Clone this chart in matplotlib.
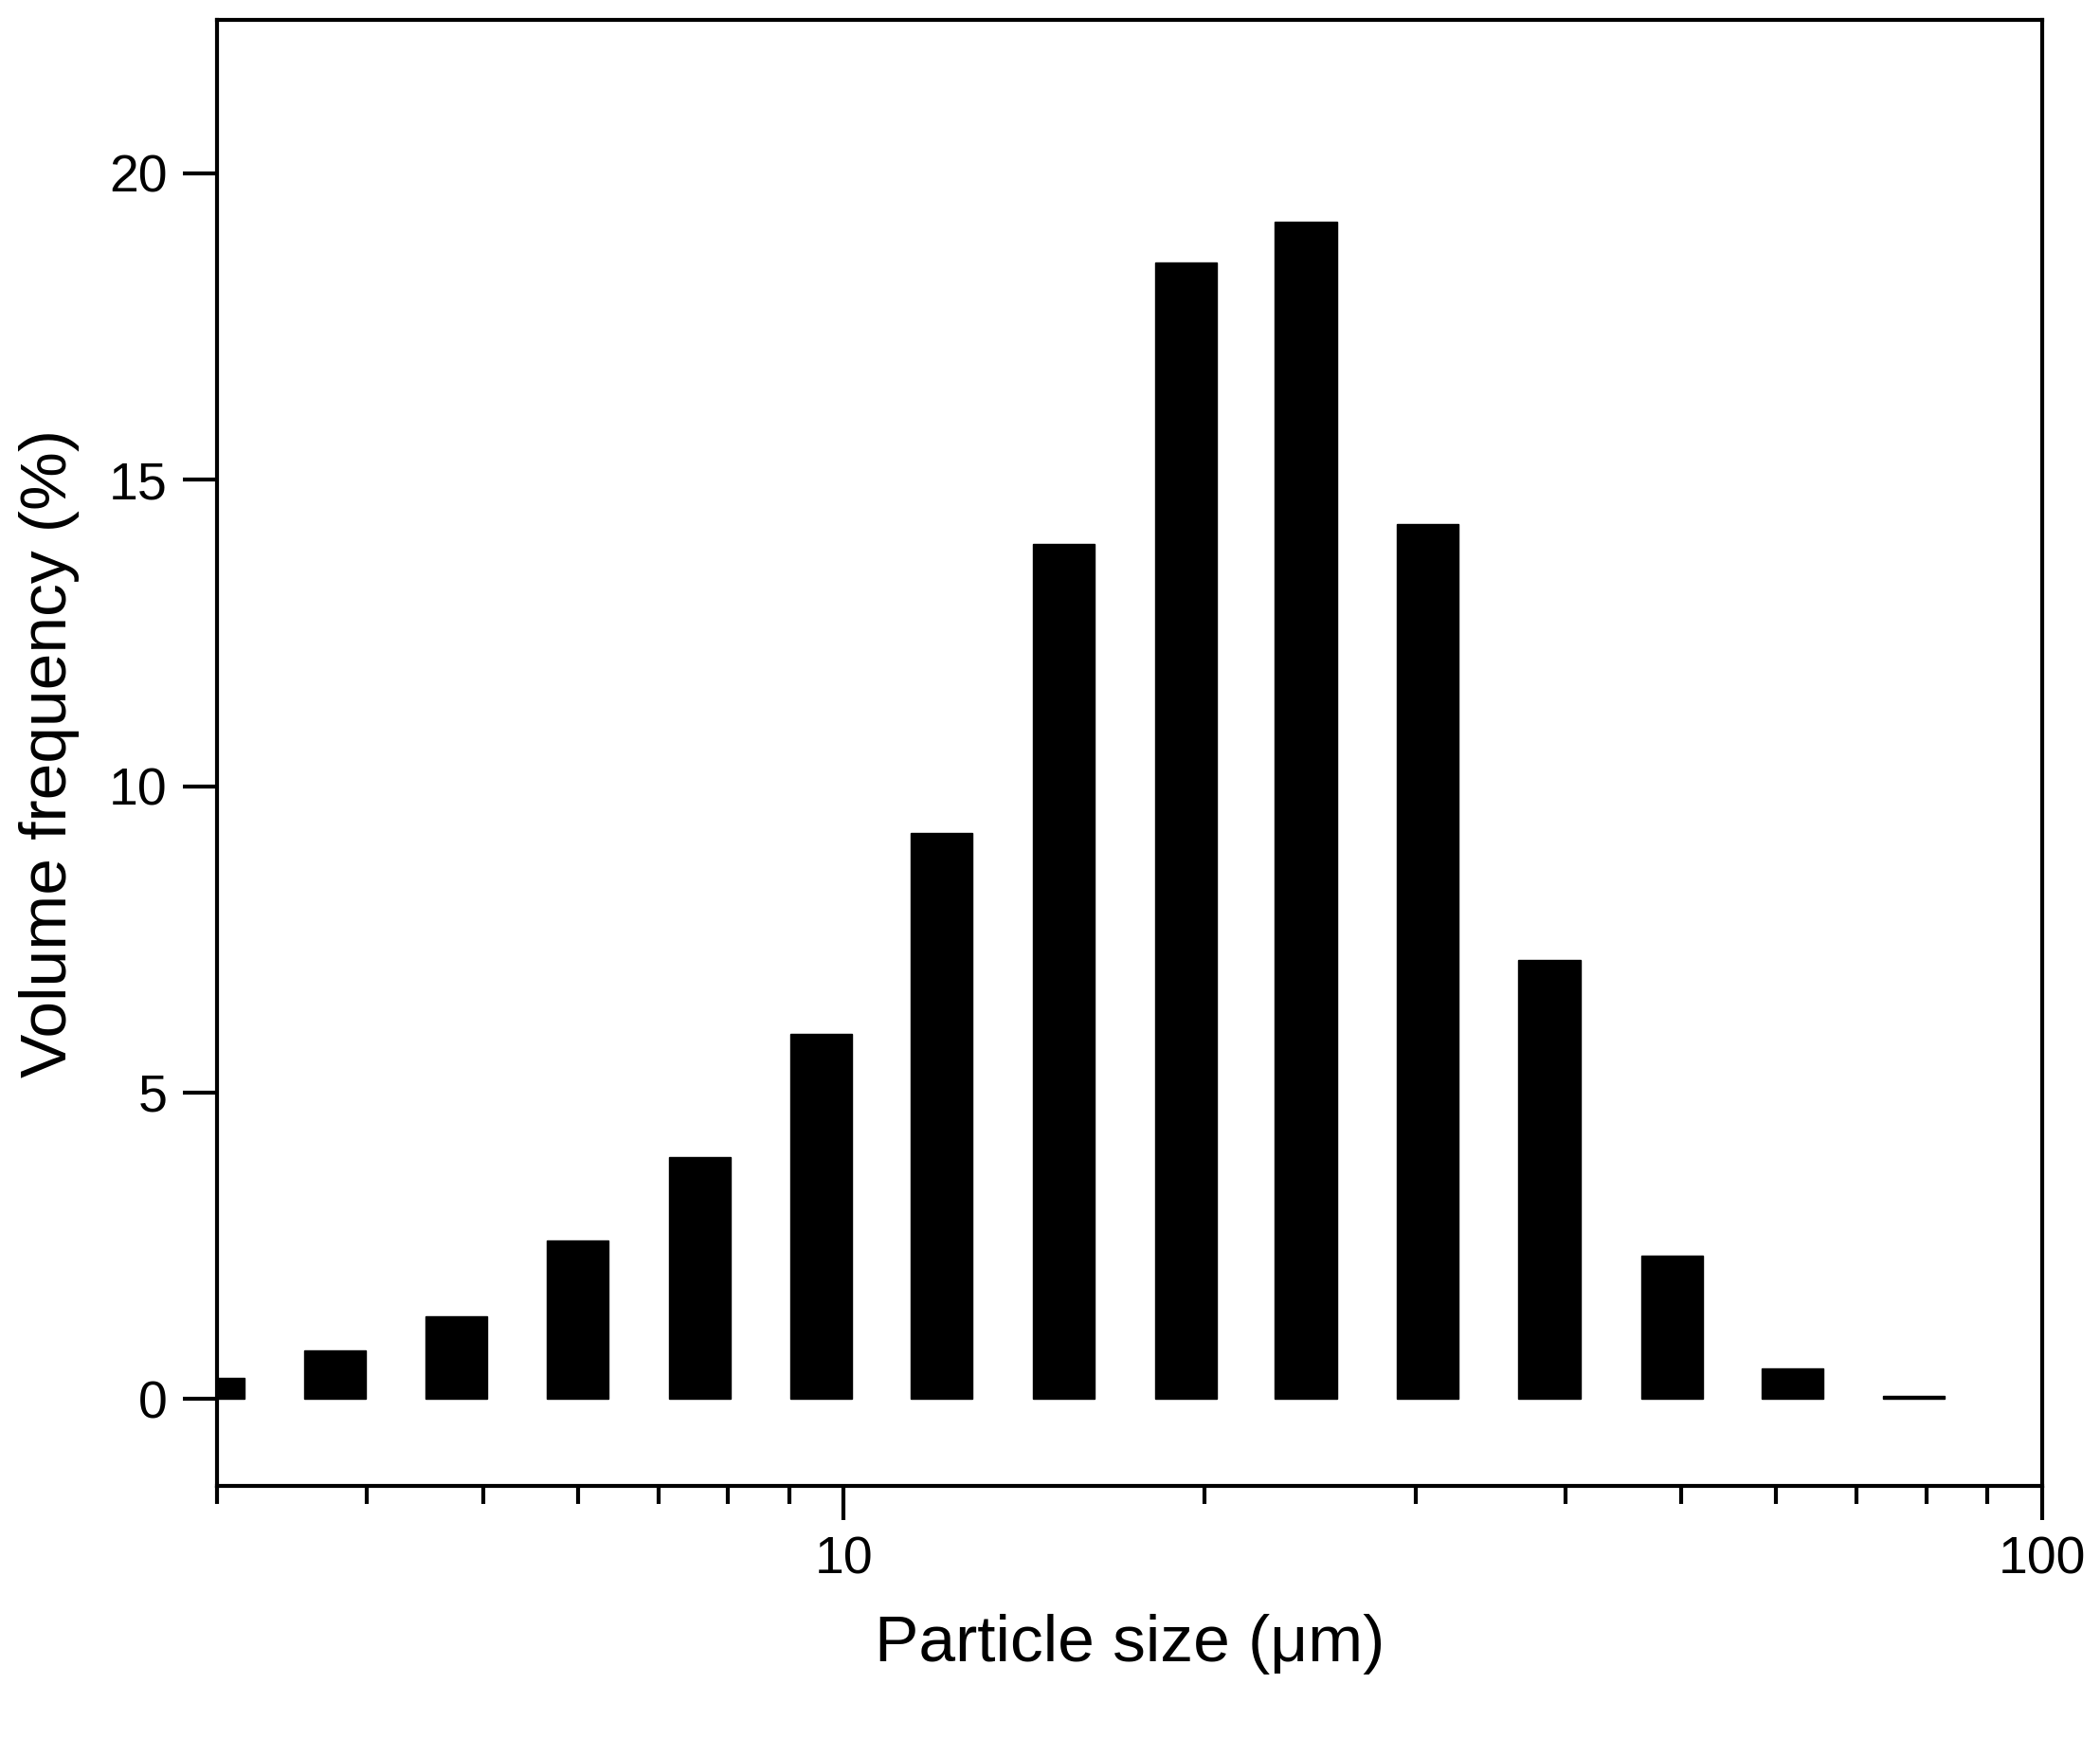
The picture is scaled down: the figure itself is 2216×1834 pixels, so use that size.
import matplotlib
matplotlib.use("Agg")
import matplotlib.pyplot as plt
import numpy as np
from matplotlib.ticker import LogLocator, NullFormatter, FixedLocator

plt.rcParams['font.family'] = ['Liberation Sans', 'DejaVu Sans']

centers = [2.98, 3.76, 4.75, 6.0, 7.58, 9.57, 12.07, 15.26, 19.3, 24.3, 30.7, 38.8, 49.1, 61.9, 78.1]
freq = [0.35, 0.8, 1.35, 2.58, 3.94, 5.96, 9.24, 13.95, 18.55, 19.21, 14.28, 7.16, 2.34, 0.5, 0.05]

fig = plt.figure(figsize=(22.16, 18.34), dpi=100)
ax = fig.add_axes([0.1034, 0.145, 0.8691, 0.8434])
c = np.array(centers)
half = 10 ** 0.0258
lefts = c / half
widths = c * half - lefts
ax.bar(lefts, freq, width=widths, align='edge', color='black', edgecolor='black')
ax.set_xscale('log')
ax.set_xlim(3, 100)
ax.set_ylim(-1.42, 22.5)
ax.set_yticks([0, 5, 10, 15, 20])
ax.xaxis.set_major_locator(FixedLocator([10, 100]))
ax.xaxis.set_major_formatter(matplotlib.ticker.FixedFormatter(['10', '100']))
ax.xaxis.set_minor_locator(LogLocator(base=10, subs=np.arange(2, 10)))
ax.xaxis.set_minor_formatter(NullFormatter())
ax.tick_params(axis='both', which='major', direction='out', length=26, width=3, labelsize=40, pad=12)
ax.tick_params(axis='x', which='minor', direction='out', length=14, width=3)
for s in ax.spines.values():
    s.set_linewidth(3)
ax.set_xlabel('Particle size (μm)', fontsize=50, labelpad=22)
ax.set_ylabel('Volume frequency (%)', fontsize=50, labelpad=22)
fig.savefig('out.png', dpi=100)
